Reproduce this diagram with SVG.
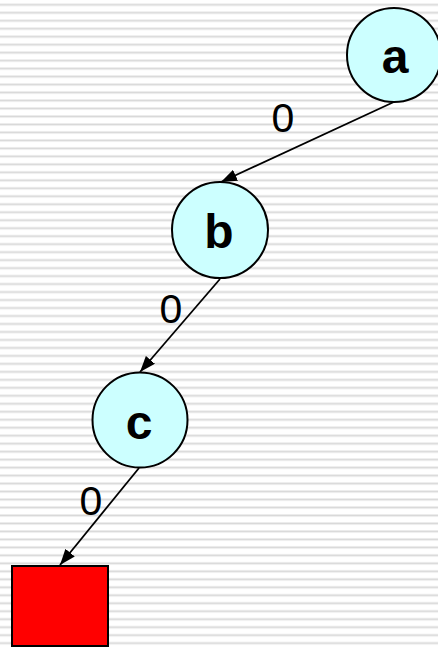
<svg xmlns="http://www.w3.org/2000/svg" width="438" height="647" viewBox="0 0 438 647">
<defs>
<pattern id="stripes" patternUnits="userSpaceOnUse" x="0" y="0.3" width="16" height="7.98">
<rect x="0" y="0" width="16" height="7.98" fill="#ffffff"/>
<rect x="0" y="3" width="16" height="1" fill="#ececec"/>
<rect x="0" y="4" width="16" height="1" fill="#d9d9d9"/>
<rect x="0" y="5" width="16" height="1" fill="#eeeeee"/>
</pattern>
<marker id="arrow" viewBox="0 0 16 12" refX="16" refY="6" markerWidth="16" markerHeight="12" markerUnits="userSpaceOnUse" orient="auto">
<path d="M0,0 L16,6 L0,12 Z" fill="#000"/>
</marker>
<style>
.node circle{fill:#ccffff;stroke:#000;stroke-width:2}
.node text{font-family:"Liberation Sans",Arial,sans-serif;font-weight:bold;font-size:48px;text-anchor:middle;fill:#000}
.edge{stroke:#000;stroke-width:1.8;fill:none;marker-end:url(#arrow)}
.lbl{font-family:"Liberation Sans",Arial,sans-serif;font-size:41px;text-anchor:middle;fill:#000}
</style>
</defs>
<rect x="0" y="0" width="438" height="647" fill="url(#stripes)"/>
<g id="connectors">
<line class="edge" x1="396" y1="101" x2="221" y2="182"/>
<line class="edge" x1="220" y1="279" x2="140" y2="372"/>
<line class="edge" x1="139" y1="468" x2="60" y2="565"/>
<text class="lbl" x="283" y="132">0</text>
<text class="lbl" x="171" y="323">0</text>
<text class="lbl" x="91" y="515">0</text>
</g>
<g id="node-a" class="node">
<circle cx="394" cy="55" r="47"/>
<text x="395" y="73">a</text>
</g>
<g id="node-b" class="node">
<circle cx="220" cy="230" r="48"/>
<text x="219" y="248">b</text>
</g>
<g id="node-c" class="node">
<circle cx="140" cy="420" r="47.5"/>
<text x="139" y="439">c</text>
</g>
<g id="leaf">
<rect x="12" y="566" width="96" height="80" fill="#ff0000" stroke="#000" stroke-width="2"/>
</g>
</svg>
